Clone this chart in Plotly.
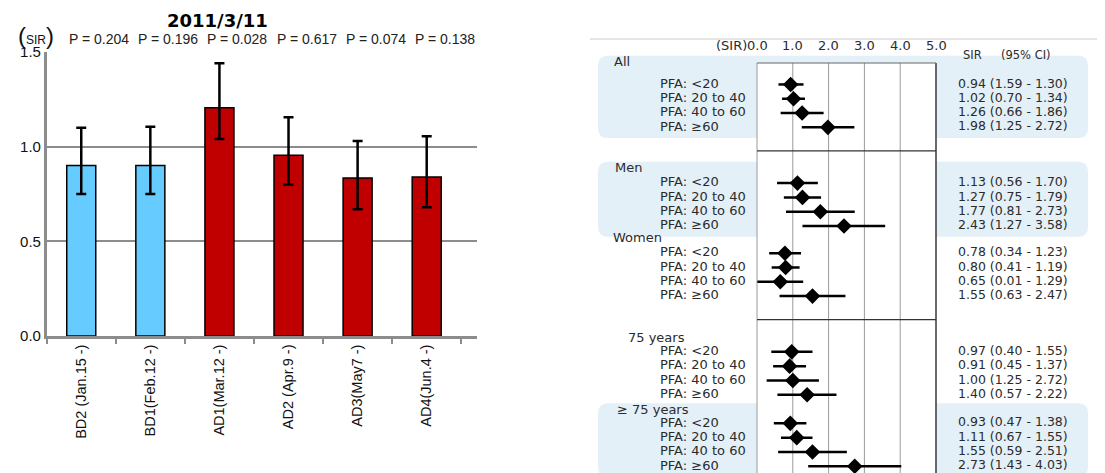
import plotly.graph_objects as go

W, H = 1105, 473          # browser window
OFF = 8                   # page body margin
FW, FH = W - OFF, H - OFF  # figure size so it ends at the window edge

# ---------------- Left panel data ----------------
periods = ["BD2 (Jan.15 -)", "BD1(Feb.12 -)", "AD1(Mar.12 -)",
           "AD2 (Apr.9 -)", "AD3(May7 -)", "AD4(Jun.4 -)"]
sir_bar = [0.90, 0.90, 1.205, 0.955, 0.835, 0.84]
sir_bar_hi = [1.10, 1.105, 1.44, 1.155, 1.03, 1.055]
sir_bar_lo = [0.75, 0.75, 1.04, 0.80, 0.67, 0.68]
p_values = ["P = 0.204", "P = 0.196", "P = 0.028", "P = 0.617", "P = 0.074", "P = 0.138"]
bar_colors = ["#66CCFF", "#66CCFF", "#C00000", "#C00000", "#C00000", "#C00000"]
bar_yticks = [0.0, 0.5, 1.0, 1.5]
bar_title = "2011/3/11"

# ---------------- Right panel data ----------------
groups = ["All", "Men", "Women", "75 years", "\u2265 75 years"]
pfa_labels = ["PFA: <20", "PFA: 20 to 40", "PFA: 40 to 60", "PFA: \u226560"]
sir_forest = [
    [0.94, 1.02, 1.26, 1.98],
    [1.13, 1.27, 1.77, 2.43],
    [0.78, 0.80, 0.65, 1.55],
    [0.97, 0.91, 1.00, 1.40],
    [0.93, 1.11, 1.55, 2.73],
]
# CI bounds as printed in the table
ci_lo_text = [
    [1.59, 0.70, 0.66, 1.25],
    [0.56, 0.75, 0.81, 1.27],
    [0.34, 0.41, 0.01, 0.63],
    [0.40, 0.45, 1.25, 0.57],
    [0.47, 0.67, 0.59, 1.43],
]
ci_hi_text = [
    [1.30, 1.34, 1.86, 2.72],
    [1.70, 1.79, 2.73, 3.58],
    [1.23, 1.19, 1.29, 2.47],
    [1.55, 1.37, 2.72, 2.22],
    [1.38, 1.55, 2.51, 4.03],
]
# CI bounds as drawn in the plot
ci_lo_drawn = [
    [0.60, 0.70, 0.66, 1.25],
    [0.56, 0.75, 0.81, 1.27],
    [0.34, 0.41, 0.01, 0.63],
    [0.40, 0.45, 0.27, 0.57],
    [0.47, 0.67, 0.59, 1.43],
]
ci_hi_drawn = [
    [1.30, 1.34, 1.86, 2.72],
    [1.70, 1.79, 2.73, 3.58],
    [1.23, 1.19, 1.29, 2.47],
    [1.55, 1.37, 1.73, 2.22],
    [1.38, 1.55, 2.51, 4.03],
]
forest_ticks = [0, 1, 2, 3, 4, 5]
shaded_groups = ["All", "Men", "\u2265 75 years"]

# ---------------- layout constants (window pixels) ----------------
gap_before = [0.0, 2.9, 0.9, 3.0, 1.1]
first_off = [1.5, 1.0, 1.0, 0.9, 0.9]
header_px = [617, 618, 616, 631, 620]
X2_LEFT_PX, X2_ZERO_PX, X2_UNIT = 590, 757, 35.8
ROW_PX, HEADER0_PX = 14.3, 63
FONT_R = "DejaVu Sans"
FONT_L = "Liberation Sans"


def fx(px):
    """window x pixel -> paper x"""
    return (px - OFF) / FW


def fy(py):
    """window y pixel -> paper y"""
    return 1 - (py - OFF) / FH


def px2x(px):
    return (px - X2_ZERO_PX) / X2_UNIT


def px2row(py):
    return (py - HEADER0_PX) / ROW_PX


header_y, row_y = [], []
for gi, g in enumerate(groups):
    hy = 0.0 if gi == 0 else row_y[-1][-1] + gap_before[gi]
    header_y.append(hy)
    row_y.append([hy + first_off[gi] + k for k in range(len(pfa_labels))])

fig = go.Figure()

# ---------------- left bar chart ----------------
fig.add_trace(go.Bar(
    x=periods, y=sir_bar, width=0.42,
    marker=dict(color=bar_colors, line=dict(color="black", width=1.5)),
    error_y=dict(type="data", symmetric=False,
                 array=[h - v for h, v in zip(sir_bar_hi, sir_bar)],
                 arrayminus=[v - l for v, l in zip(sir_bar, sir_bar_lo)],
                 color="black", thickness=2.5, width=5),
    xaxis="x", yaxis="y", showlegend=False, hoverinfo="skip"))

# ---------------- right forest plot ----------------
xs, ys, ep, em = [], [], [], []
for gi in range(len(groups)):
    for k in range(len(pfa_labels)):
        s = sir_forest[gi][k]
        xs.append(s)
        ys.append(row_y[gi][k])
        ep.append(ci_hi_drawn[gi][k] - s)
        em.append(s - ci_lo_drawn[gi][k])

fig.add_trace(go.Scatter(
    x=xs, y=ys, mode="markers", xaxis="x2", yaxis="y2",
    marker=dict(symbol="diamond", size=12, color="black"),
    error_x=dict(type="data", symmetric=False, array=ep, arrayminus=em,
                 color="black", thickness=2.5, width=0),
    showlegend=False, hoverinfo="skip"))

txt_font = dict(family=FONT_R, size=13, color="#2b2b2b")
ci_font = dict(family=FONT_R, size=12.5, color="#2b2b2b")

# row labels
fig.add_trace(go.Scatter(
    x=[px2x(660)] * len(ys), y=ys, mode="text",
    text=[lab.replace("<", "&lt;") for _ in groups for lab in pfa_labels],
    textposition="middle right", textfont=txt_font,
    xaxis="x2", yaxis="y2", showlegend=False, hoverinfo="skip", cliponaxis=False))

# group headers
fig.add_trace(go.Scatter(
    x=[px2x(p - 3) for p in header_px], y=header_y, mode="text",
    text=groups, textposition="middle right", textfont=txt_font,
    xaxis="x2", yaxis="y2", showlegend=False, hoverinfo="skip", cliponaxis=False))

# CI texts
ci_texts = []
for gi in range(len(groups)):
    for k in range(len(pfa_labels)):
        ci_texts.append(f"{sir_forest[gi][k]:.2f} ({ci_lo_text[gi][k]:.2f} - {ci_hi_text[gi][k]:.2f})")
fig.add_trace(go.Scatter(
    x=[px2x(958)] * len(ys), y=ys, mode="text", text=ci_texts,
    textposition="middle right", textfont=ci_font,
    xaxis="x2", yaxis="y2", showlegend=False, hoverinfo="skip", cliponaxis=False))

# ---------------- shapes ----------------
shapes = []


def rounded(x0, x1, y0, y1, rx=0.009, ry=0.7):
    return (f"M {x0+rx},{y0} L {x1-rx},{y0} Q {x1},{y0} {x1},{y0+ry} "
            f"L {x1},{y1-ry} Q {x1},{y1} {x1-rx},{y1} L {x0+rx},{y1} "
            f"Q {x0},{y1} {x0},{y1-ry} L {x0},{y0+ry} Q {x0},{y0} {x0+rx},{y0} Z")


y_bottom = px2row(H) + 0.5
for gi, g in enumerate(groups):
    if g in shaded_groups:
        y0 = header_y[gi] - 0.5
        y1 = min(row_y[gi][-1] + 0.75, y_bottom)
        shapes.append(dict(type="path", xref="paper", yref="y2",
                           path=rounded(fx(598), fx(1088), y0, y1),
                           fillcolor="#e3f0f7", line=dict(width=0), layer="below"))

# white plot box
shapes.append(dict(type="rect", xref="x2", yref="y2", x0=forest_ticks[0], x1=forest_ticks[-1],
                   y0=0, y1=y_bottom, fillcolor="white", line=dict(width=0), layer="below"))
# vertical grid lines
for t in forest_ticks:
    last = t == forest_ticks[-1]
    shapes.append(dict(type="line", xref="x2", yref="y2", x0=t, x1=t, y0=0, y1=y_bottom,
                       line=dict(color="#444444" if last else "#9a9a9a", width=1.6 if last else 1),
                       layer="below"))
# top edge of box
shapes.append(dict(type="line", xref="x2", yref="y2", x0=forest_ticks[0], x1=forest_ticks[-1],
                   y0=0, y1=0, line=dict(color="#666666", width=1), layer="below"))
# separators
for gi in [0, 2]:
    ysep = row_y[gi][-1] + 1.65
    shapes.append(dict(type="line", xref="x2", yref="y2", x0=forest_ticks[0], x1=forest_ticks[-1],
                       y0=ysep, y1=ysep, line=dict(color="#333333", width=1.2), layer="below"))
# thin top line across right panel
shapes.append(dict(type="line", xref="paper", yref="y2", x0=fx(X2_LEFT_PX), x1=1,
                   y0=px2row(39), y1=px2row(39), line=dict(color="#cccccc", width=1)))

# ---------------- annotations ----------------
ann = []
ann.append(dict(text=f"<b>{bar_title}</b>", x=fx(217), y=fy(8.5), xref="paper", yref="paper",
                showarrow=False, font=dict(family=FONT_R, size=18, color="black"),
                xanchor="center", yanchor="top", borderpad=0))
for cat, p in zip(periods, p_values):
    ann.append(dict(text=p, x=cat, xref="x", y=fy(39), yref="paper", xshift=18,
                    showarrow=False, font=dict(family=FONT_L, size=14, color="#222222"),
                    xanchor="center", yanchor="middle"))
ann.append(dict(text="<span style='font-size:24px'>(</span>SIR<span style='font-size:24px'>)</span>",
                x=fx(36), y=fy(36), xref="paper", yref="paper", showarrow=False,
                font=dict(family=FONT_L, size=12, color="#111111"),
                xanchor="center", yanchor="middle"))
for t in forest_ticks:
    ann.append(dict(text=f"{t:.1f}", x=t, xref="x2", y=px2row(45), yref="y2", showarrow=False,
                    font=txt_font, xanchor="center", yanchor="middle"))
ann.append(dict(text="(SIR)", x=px2x(749), xref="x2", y=px2row(45), yref="y2", showarrow=False,
                font=txt_font, xanchor="right", yanchor="middle"))
ann.append(dict(text="SIR", x=px2x(961), xref="x2", y=px2row(55), yref="y2", showarrow=False,
                font=dict(family=FONT_R, size=11.5, color="#2b2b2b"), xanchor="left", yanchor="middle"))
ann.append(dict(text="(95% CI)", x=px2x(999), xref="x2", y=px2row(55), yref="y2", showarrow=False,
                font=dict(family=FONT_R, size=11.5, color="#2b2b2b"), xanchor="left", yanchor="middle"))

fig.update_layout(
    width=FW, height=FH,
    margin=dict(l=0, r=0, t=0, b=0, pad=0, autoexpand=False),
    paper_bgcolor="white", plot_bgcolor="rgba(0,0,0,0)",
    font=dict(family=FONT_L, color="#111111"),
    xaxis=dict(domain=[fx(46.7), fx(476.7)], type="category", anchor="y", automargin=False,
               showline=True, linecolor="#8c8c8c", linewidth=2.5,
               ticks="outside", tickson="boundaries", ticklen=5, tickcolor="#8c8c8c", tickwidth=1.5,
               tickangle=-90, tickfont=dict(family=FONT_L, size=14.5, color="#111111"), showgrid=False),
    yaxis=dict(domain=[fy(336), fy(52)], range=[0, 1.5], autorange=False, anchor="x",
               automargin=False,
               tickvals=bar_yticks, ticktext=[f"{v:.1f}" for v in bar_yticks],
               showgrid=True, gridcolor="#8c8c8c", gridwidth=2,
               showline=True, linecolor="#8c8c8c", linewidth=2.5, zeroline=False,
               tickfont=dict(family=FONT_L, size=15, color="#111111"), ticks=""),
    xaxis2=dict(domain=[fx(X2_LEFT_PX), 1], range=[px2x(X2_LEFT_PX), px2x(W)], autorange=False,
                visible=False, anchor="y2", automargin=False),
    yaxis2=dict(domain=[0, 1], range=[px2row(H), px2row(OFF)], autorange=False,
                visible=False, anchor="x2", automargin=False),
    shapes=shapes, annotations=ann,
)

fig.write_html("out.html")
